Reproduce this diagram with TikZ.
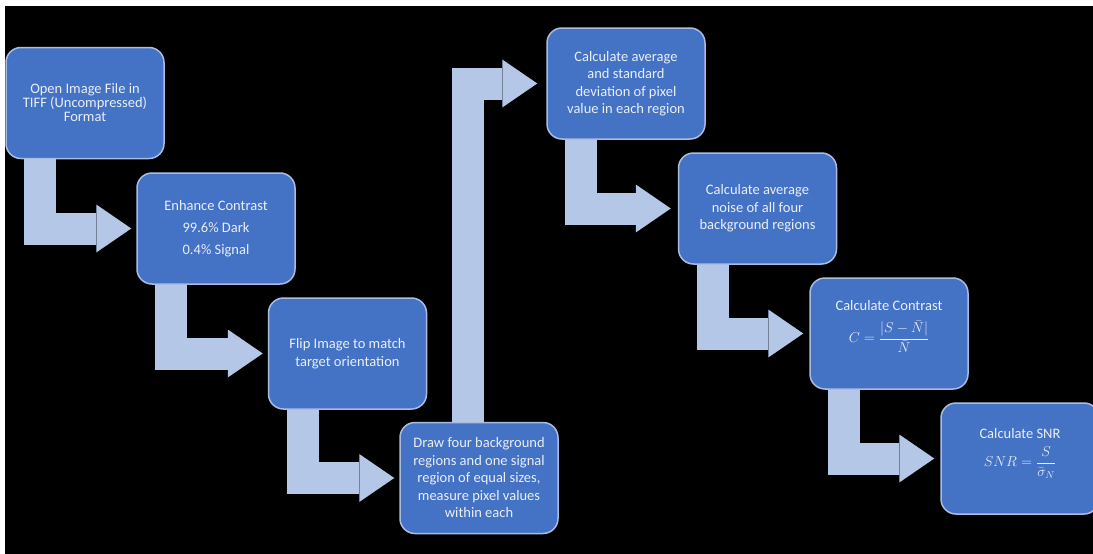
\documentclass[tikz,border=0pt]{standalone}
\usepackage{amsmath}
\usepackage{fontspec}
\setmainfont{Carlito}
\usepackage{xcolor}
\usepackage{tikz}
\usetikzlibrary{arrows.meta}
\definecolor{boxblue}{HTML}{4472C4}
\definecolor{boxline}{HTML}{A9BDE3}
\definecolor{arrowblue}{HTML}{B4C7E7}
\definecolor{textwhite}{HTML}{E9EEF8}

\begin{document}
\begin{tikzpicture}[x=1pt, y=-1pt, stepbox/.style={rectangle, rounded corners=15pt, draw=boxline, line width=1.5pt, fill=boxblue, minimum width=158pt, minimum height=111pt, align=center, text=textwhite, font=\fontsize{14.5}{17.5}\selectfont}, flow/.style={draw=arrowblue, line width=32pt, -{Triangle[width=48pt, length=35pt, line width=0pt]}}]
\useasboundingbox (0, 0) rectangle (1093, 554);
\fill[white] (0, 0) rectangle (1093, 554);
\fill[black] (5, 6) rectangle (1093, 554);

\node[stepbox, font=\fontsize{14.5}{14}\selectfont] at (85, 103) (1) {Open Image File in\\TIFF (Uncompressed)\\Format};
\node[stepbox] at (216, 228.5) (2) {Enhance Contrast\\[4.5pt]99.6\% Dark\\[4.5pt]0.4\% Signal};
\node[stepbox] at (347.5, 353.5) (3) {Flip Image to match\\target orientation};
\node[stepbox] at (479, 478) (4) {Draw four background\\regions and one signal\\region of equal sizes,\\measure pixel values\\within each};
\node[stepbox] at (626, 83.5) (5) {Calculate average\\and standard\\deviation of pixel\\value in each region};
\node[stepbox] at (757.5, 208.5) (6) {Calculate average\\noise of all four\\background regions};
\node[stepbox] at (889, 333.5) (7) {Calculate Contrast\\[9pt]$\displaystyle C=\frac{|S-\bar{N}|}{\bar{N}}$\\[6pt]};
\node[stepbox] at (1020, 458.5) (8) {Calculate SNR\\[7pt]$\displaystyle SNR=\frac{S}{\bar{\sigma}_N}$\\[4pt]};

\draw[flow] ([xshift=-45pt]1.south) |- ([xshift=-5pt]2.west);
\draw[flow] ([xshift=-45pt]2.south) |- ([xshift=-5pt]3.west);
\draw[flow] ([xshift=-45pt]3.south) |- ([xshift=-5pt]4.west);
\draw[flow] ([xshift=-11.5pt]4.north) |- ([xshift=-9pt]5.west);
\draw[flow] ([xshift=-45pt]5.south) |- ([xshift=-7pt]6.west);
\draw[flow] ([xshift=-45pt]6.south) |- ([xshift=-6pt]7.west);
\draw[flow] ([xshift=-45pt]7.south) |- ([xshift=-6pt]8.west);

\end{tikzpicture}
\end{document}
